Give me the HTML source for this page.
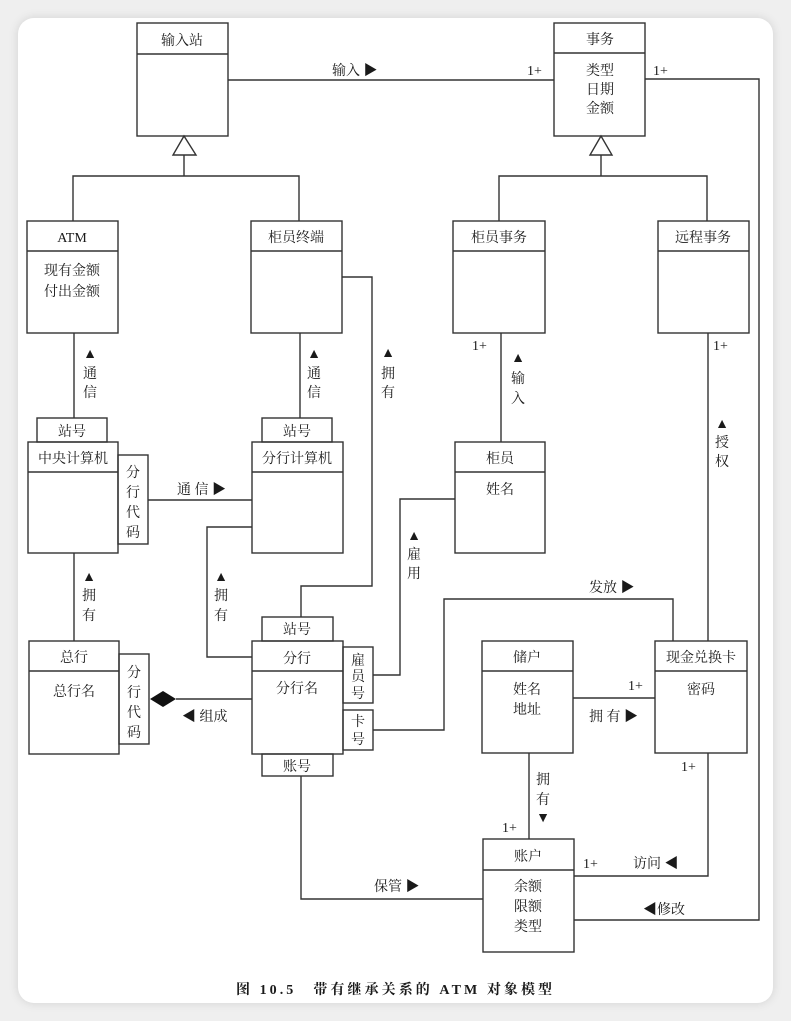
<!DOCTYPE html>
<html><head><meta charset="utf-8"><style>
html,body{margin:0;padding:0;background:#efefef;}
.card{position:absolute;left:18px;top:18px;width:755px;height:985px;background:#fff;border-radius:16px;box-shadow:0 0 10px rgba(0,0,0,0.12);}
svg{position:absolute;left:0;top:0;}
text{font-family:"Liberation Serif","Noto Serif CJK SC",serif;font-size:14px;fill:#1a1a1a;}
</style></head><body>
<div class="card"></div>
<svg width="791" height="1021" viewBox="0 0 791 1021">
<g fill="none" stroke="#333" stroke-width="1.4">
<rect x="137" y="23" width="91" height="113"/><line x1="137" y1="54" x2="228" y2="54"/>
<rect x="554" y="23" width="91" height="113"/><line x1="554" y1="53" x2="645" y2="53"/>
<rect x="27" y="221" width="91" height="112"/><line x1="27" y1="251" x2="118" y2="251"/>
<rect x="251" y="221" width="91" height="112"/><line x1="251" y1="251" x2="342" y2="251"/>
<rect x="453" y="221" width="92" height="112"/><line x1="453" y1="251" x2="545" y2="251"/>
<rect x="658" y="221" width="91" height="112"/><line x1="658" y1="251" x2="749" y2="251"/>
<rect x="37" y="418" width="70" height="24"/>
<rect x="28" y="442" width="90" height="111"/><line x1="28" y1="472" x2="118" y2="472"/>
<rect x="118" y="455" width="30" height="89"/>
<rect x="262" y="418" width="70" height="24"/>
<rect x="252" y="442" width="91" height="111"/><line x1="252" y1="472" x2="343" y2="472"/>
<rect x="455" y="442" width="90" height="111"/><line x1="455" y1="472" x2="545" y2="472"/>
<rect x="29" y="641" width="90" height="113"/><line x1="29" y1="671" x2="119" y2="671"/>
<rect x="119" y="654" width="30" height="90"/>
<rect x="262" y="617" width="71" height="24"/>
<rect x="252" y="641" width="91" height="113"/><line x1="252" y1="671" x2="343" y2="671"/>
<rect x="343" y="647" width="30" height="56"/>
<rect x="343" y="710" width="30" height="40"/>
<rect x="262" y="754" width="71" height="22"/>
<rect x="482" y="641" width="91" height="112"/><line x1="482" y1="671" x2="573" y2="671"/>
<rect x="655" y="641" width="92" height="112"/><line x1="655" y1="671" x2="747" y2="671"/>
<rect x="483" y="839" width="91" height="113"/><line x1="483" y1="870" x2="574" y2="870"/>
<polygon points="184,136 173,155 196,155"/>
<polyline points="184,155 184,176"/><polyline points="73,221 73,176 299,176 299,221"/>
<polygon points="601,136 590,155 612,155"/>
<polyline points="601,155 601,176"/><polyline points="499,221 499,176 707,176 707,221"/>
<line x1="228" y1="80" x2="554" y2="80"/>
<polyline points="645,79 759,79 759,920 574,920"/>
<line x1="74" y1="333" x2="74" y2="418"/>
<line x1="300" y1="333" x2="300" y2="418"/>
<polyline points="342,277 372,277 372,586 301,586 301,617"/>
<line x1="501" y1="333" x2="501" y2="442"/>
<line x1="708" y1="333" x2="708" y2="641"/>
<line x1="148" y1="500" x2="252" y2="500"/>
<polyline points="252,527 207,527 207,657 252,657"/>
<polyline points="455,499 400,499 400,675 373,675"/>
<polyline points="373,730 444,730 444,599 673,599 673,641"/>
<line x1="74" y1="553" x2="74" y2="641"/>
<line x1="176" y1="699" x2="252" y2="699"/>
<line x1="573" y1="698" x2="655" y2="698"/>
<line x1="529" y1="753" x2="529" y2="839"/>
<polyline points="708,753 708,876 574,876"/>
<polyline points="301,776 301,899 483,899"/>
</g>
<polygon points="150,699 163,691 176,699 163,707" fill="#111"/>
<g text-anchor="middle">
<text x="182" y="45">输入站</text>
<text x="600" y="44">事务</text>
<text x="600" y="75">类型</text><text x="600" y="94">日期</text><text x="600" y="113">金额</text>
<text x="72" y="242">ATM</text>
<text x="72" y="275">现有金额</text><text x="72" y="296">付出金额</text>
<text x="296" y="242">柜员终端</text>
<text x="499" y="242">柜员事务</text>
<text x="703" y="242">远程事务</text>
<text x="72" y="436">站号</text>
<text x="73" y="463">中央计算机</text>
<text x="297" y="436">站号</text>
<text x="297" y="463">分行计算机</text>
<text x="500" y="463">柜员</text>
<text x="500" y="494">姓名</text>
<text x="133" y="477">分</text><text x="133" y="497">行</text><text x="133" y="517">代</text><text x="133" y="537">码</text>
<text x="74" y="662">总行</text>
<text x="74" y="696">总行名</text>
<text x="134" y="677">分</text><text x="134" y="697">行</text><text x="134" y="717">代</text><text x="134" y="737">码</text>
<text x="297" y="634">站号</text>
<text x="297" y="663">分行</text>
<text x="297" y="693">分行名</text>
<text x="358" y="665">雇</text><text x="358" y="681">员</text><text x="358" y="698">号</text>
<text x="358" y="726">卡</text><text x="358" y="744">号</text>
<text x="297" y="771">账号</text>
<text x="527" y="662">储户</text>
<text x="527" y="694">姓名</text><text x="527" y="714">地址</text>
<text x="701" y="662">现金兑换卡</text>
<text x="701" y="694">密码</text>
<text x="528" y="861">账户</text>
<text x="528" y="891">余额</text><text x="528" y="911">限额</text><text x="528" y="931">类型</text>
<text x="90" y="358" font-size="12">▲</text><text x="90" y="378">通</text><text x="90" y="397">信</text>
<text x="314" y="358" font-size="12">▲</text><text x="314" y="378">通</text><text x="314" y="397">信</text>
<text x="388" y="357" font-size="12">▲</text><text x="388" y="378">拥</text><text x="388" y="397">有</text>
<text x="518" y="362" font-size="12">▲</text><text x="518" y="383">输</text><text x="518" y="403">入</text>
<text x="722" y="428" font-size="12">▲</text><text x="722" y="447">授</text><text x="722" y="466">权</text>
<text x="89" y="581" font-size="12">▲</text><text x="89" y="600">拥</text><text x="89" y="620">有</text>
<text x="221" y="581" font-size="12">▲</text><text x="221" y="600">拥</text><text x="221" y="620">有</text>
<text x="414" y="540" font-size="12">▲</text><text x="414" y="559">雇</text><text x="414" y="578">用</text>
<text x="543" y="784">拥</text><text x="543" y="804">有</text><text x="543" y="822" font-size="12">▼</text>
</g>
<g>
<text x="332" y="75">输入 ▶</text>
<text x="527" y="75">1+</text>
<text x="653" y="75">1+</text>
<text x="472" y="350">1+</text>
<text x="713" y="350">1+</text>
<text x="177" y="494">通 信 ▶</text>
<text x="589" y="592">发放 ▶</text>
<text x="182" y="721">◀ 组成</text>
<text x="628" y="690">1+</text>
<text x="589" y="721">拥 有 ▶</text>
<text x="681" y="771">1+</text>
<text x="502" y="832">1+</text>
<text x="583" y="868">1+</text>
<text x="633" y="868">访问 ◀</text>
<text x="374" y="891">保管 ▶</text>
<text x="643" y="914">◀修改</text>
<text x="236" y="994" font-size="14.5" font-weight="bold" textLength="316" lengthAdjust="spacing">图 10.5　带有继承关系的 ATM 对象模型</text>
</g>
</svg>
</body></html>
